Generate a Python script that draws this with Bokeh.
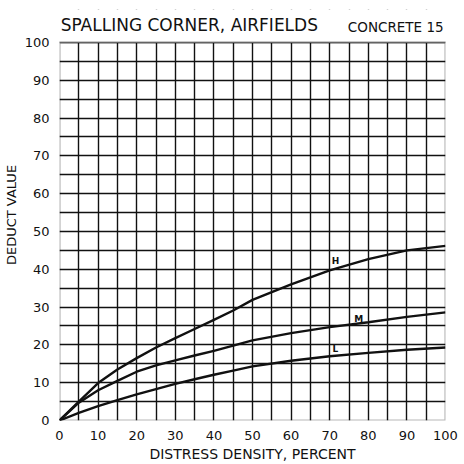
from bokeh.plotting import figure
from bokeh.models import Range1d, FixedTicker, Label, BoxAnnotation
from bokeh.embed import file_html
from bokeh.resources import INLINE

# Data
density = [0, 5, 10, 15, 20, 25, 30, 35, 40, 45, 50, 60, 70, 80, 90, 100]
deduct_h = [0, 5.0, 9.9, 13.5, 16.5, 19.3, 21.8, 24.2, 26.6, 29.1, 31.9, 36.0, 39.7, 42.7, 45.0, 46.2]
deduct_m = [0, 4.7, 8.0, 10.5, 12.9, 14.6, 15.9, 17.2, 18.4, 19.8, 21.2, 23.1, 24.7, 26.0, 27.4, 28.6]
deduct_l = [0, 2.0, 3.8, 5.4, 6.9, 8.3, 9.7, 10.9, 12.1, 13.2, 14.3, 15.8, 17.0, 17.9, 18.7, 19.3]
severity_labels = ["H", "M", "L"]
label_x = [71.5, 77.5, 71.5]
label_y = [40.8, 25.6, 17.5]
x_ticks = list(range(0, 101, 10))
y_ticks = list(range(0, 101, 10))
grid_ticks = list(range(0, 101, 5))
title_text = "SPALLING CORNER, AIRFIELDS"
subtitle_text = "CONCRETE 15"

FONT = "DejaVu Sans"
INK = "#111111"

# the frame extends above 100 to hold the heading row
p = figure(width=464, height=464, output_backend="svg", toolbar_location=None,
           x_range=Range1d(0, 100), y_range=Range1d(0, 108.71), title=None,
           min_border_left=57, min_border_right=19, min_border_top=9, min_border_bottom=43)

p.background_fill_color = "white"
p.border_fill_color = "white"
p.outline_line_color = None

p.xgrid.ticker = FixedTicker(ticks=grid_ticks)
p.ygrid.ticker = FixedTicker(ticks=grid_ticks)
for g in (p.xgrid, p.ygrid):
    g.grid_line_color = INK
    g.grid_line_width = 1.4
    g.grid_line_alpha = 1.0

for ax in (p.xaxis, p.yaxis):
    ax.axis_line_color = None
    ax.major_tick_line_color = None
    ax.minor_tick_line_color = None
    ax.major_label_text_font = FONT
    ax.major_label_text_font_size = "13px"
    ax.major_label_text_color = INK
    ax.major_label_standoff = 4
    ax.axis_label_text_font = FONT
    ax.axis_label_text_font_size = "13px"
    ax.axis_label_text_font_style = "normal"
    ax.axis_label_text_color = INK
    ax.axis_label_standoff = 3
p.xaxis.ticker = FixedTicker(ticks=x_ticks)
p.yaxis.ticker = FixedTicker(ticks=y_ticks)
p.xaxis.axis_label = "DISTRESS DENSITY, PERCENT"
p.xaxis.axis_label_text_font_size = "14px"
p.yaxis.axis_label = "DEDUCT VALUE"

for ys in (deduct_h, deduct_m, deduct_l):
    p.line(density, ys, line_color=INK, line_width=2.4)

for t, x, y in zip(severity_labels, label_x, label_y):
    p.add_layout(Label(x=x, y=y, text=t, text_font=FONT, text_font_size="9px",
                       text_color=INK, text_align="center", text_baseline="bottom",
                       text_font_style="bold"))

# white mask above the chart area (hides grid above 100), then chart border
p.add_layout(BoxAnnotation(bottom=y_ticks[-1], fill_color="white", fill_alpha=1.0,
                           line_color=None))
p.add_layout(BoxAnnotation(left=x_ticks[0], right=x_ticks[-1], bottom=y_ticks[0],
                           top=y_ticks[-1], fill_alpha=0.0, line_color=INK,
                           line_width=2.2))

p.add_layout(Label(x=0.3, y=104.5, text=title_text, text_font=FONT,
                   text_font_size="17px", text_color=INK, text_baseline="alphabetic"))
p.add_layout(Label(x=74.7, y=104.2, text=subtitle_text, text_font=FONT,
                   text_font_size="13.5px", text_color=INK, text_baseline="alphabetic"))

open("out.html", "w").write(file_html(p, INLINE))
